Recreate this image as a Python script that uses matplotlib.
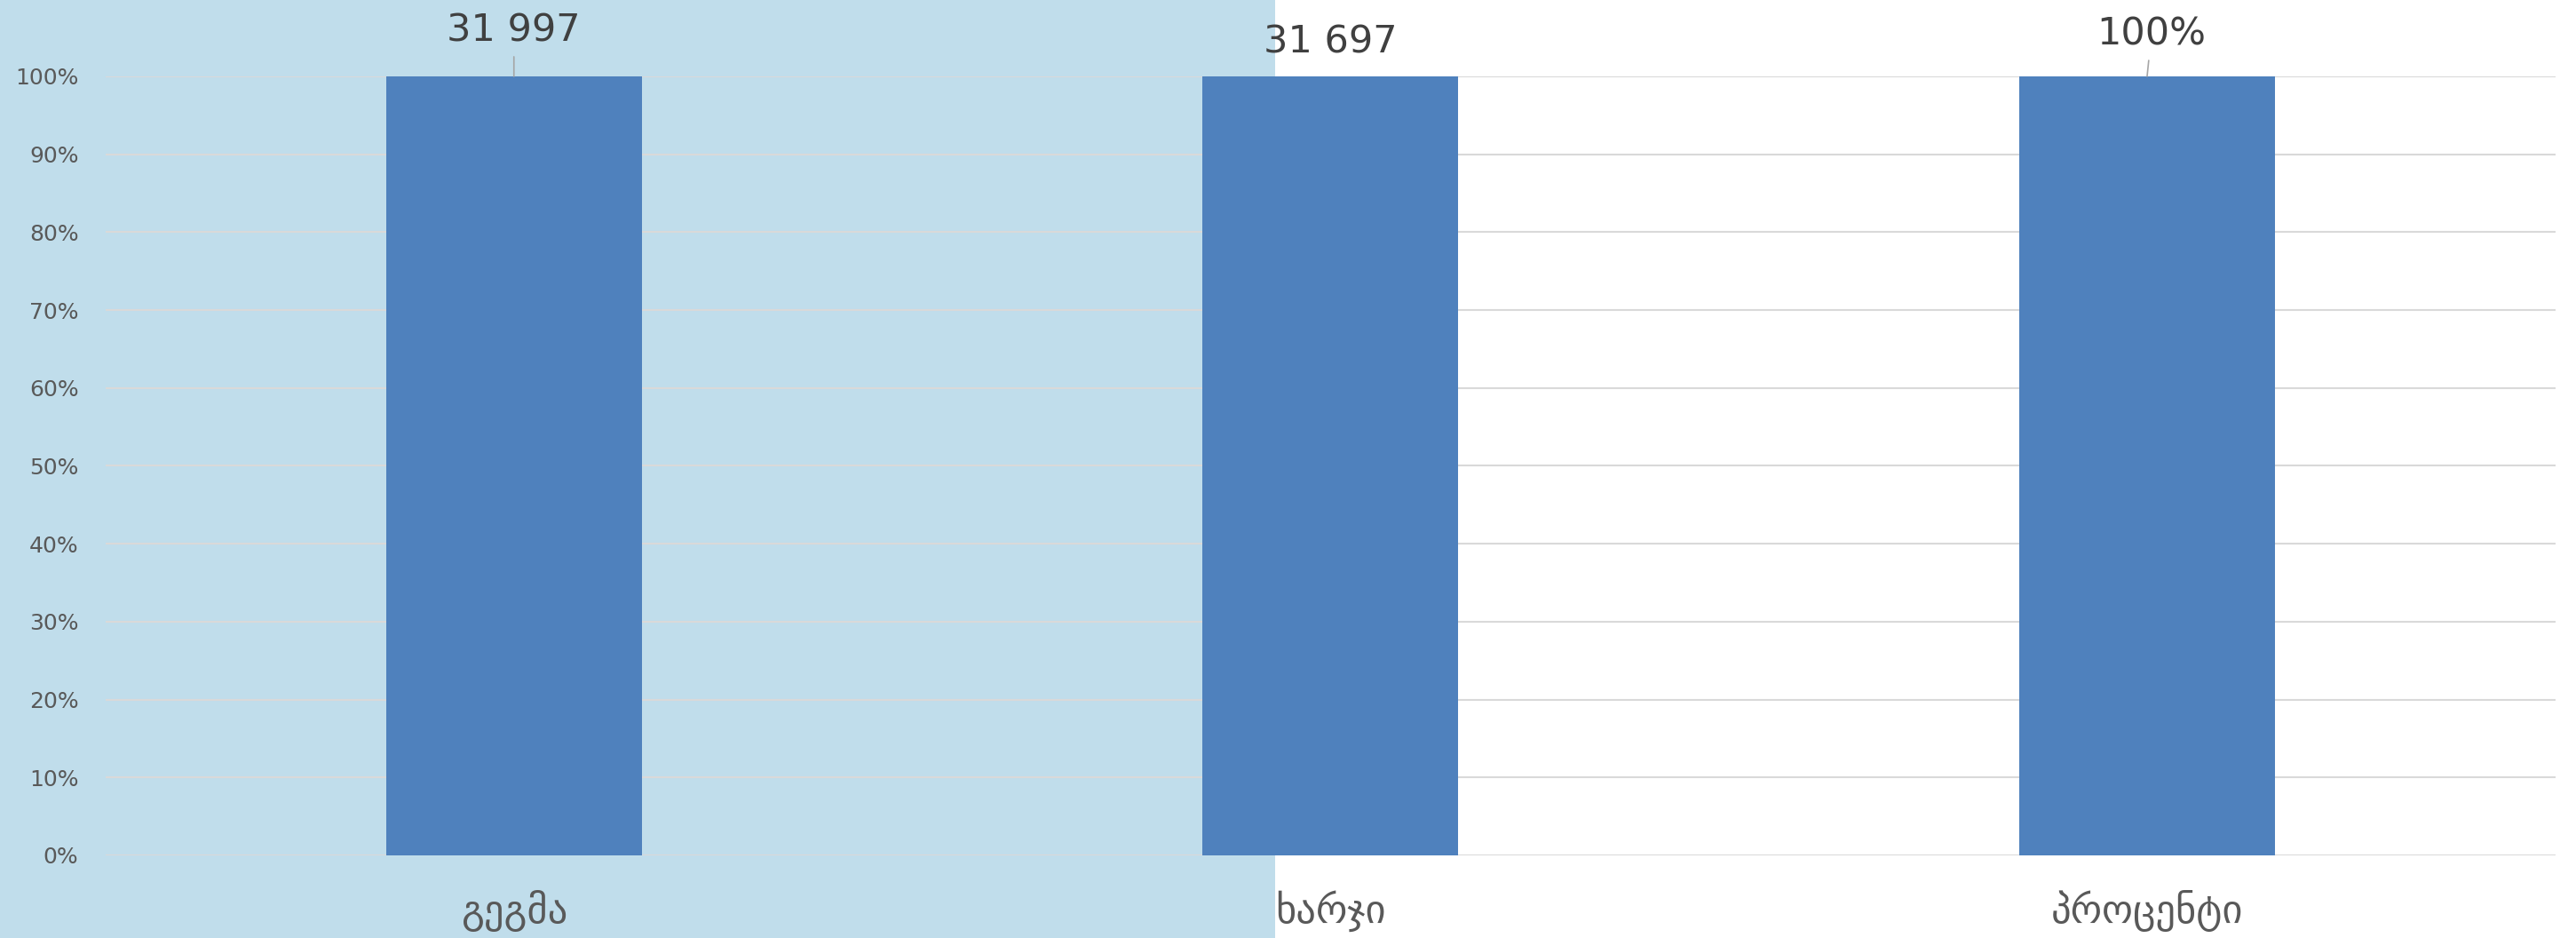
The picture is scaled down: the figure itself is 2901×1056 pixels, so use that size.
import matplotlib
matplotlib.use("Agg")
import matplotlib.pyplot as plt
from matplotlib.patches import Rectangle
from matplotlib.ticker import PercentFormatter

# font: DejaVu Sans has the Georgian glyphs
plt.rcParams["font.family"] = ["DejaVu Sans"]

# data
categories = ["გეგმა", "ხარჯი", "პროცენტი"]
shares = [1.0, 1.0, 1.0]
value_labels = ["31 997", "31 697", "100%"]
y_ticks = [0.0, 0.1, 0.2, 0.3, 0.4, 0.5, 0.6, 0.7, 0.8, 0.9, 1.0]

# label placement (points) and whether a leader line is drawn
label_offsets = [(0, 37), (0, 28), (3.5, 34)]
leaders = [True, False, True]

fig = plt.figure(figsize=(29.01, 10.56), dpi=100)
fig.patch.set_facecolor("white")
# light blue selection area on the left half
fig.patches.append(
    Rectangle((0, 0), 0.495, 1, transform=fig.transFigure,
              facecolor="#C0DDEB", edgecolor="none", zorder=-1)
)

ax = fig.add_axes([0.041, 0.0881, 0.951, 0.8305])
ax.set_facecolor("none")

x = list(range(len(categories)))
bars = ax.bar(x, shares, width=0.313, color="#4F81BD", zorder=2)

for i, b in enumerate(bars):
    xc = b.get_x() + b.get_width() / 2
    arrow = dict(arrowstyle="-", color="#A6A6A6", lw=1.2, shrinkA=4, shrinkB=0) if leaders[i] else None
    ax.annotate(value_labels[i], xy=(xc, b.get_height()), xytext=label_offsets[i],
                textcoords="offset points", ha="center", va="center",
                fontsize=31, color="#404040", arrowprops=arrow,
                annotation_clip=False, zorder=4)

ax.set_xlim(-0.5, len(categories) - 0.5)
ax.set_ylim(0, 1)
ax.set_yticks(y_ticks)
ax.yaxis.set_major_formatter(PercentFormatter(1.0, decimals=0))
ax.set_xticks(x)
ax.set_xticklabels(categories)

ax.yaxis.grid(True, color="#D9D9D9", linewidth=1.5)
ax.set_axisbelow(True)
for s in ax.spines.values():
    s.set_visible(False)

ax.tick_params(axis="both", length=0)
ax.tick_params(axis="y", labelsize=18, labelcolor="#595959", pad=22)
ax.tick_params(axis="x", labelsize=32, labelcolor="#595959", pad=28)

fig.savefig("out.png", dpi=100)
